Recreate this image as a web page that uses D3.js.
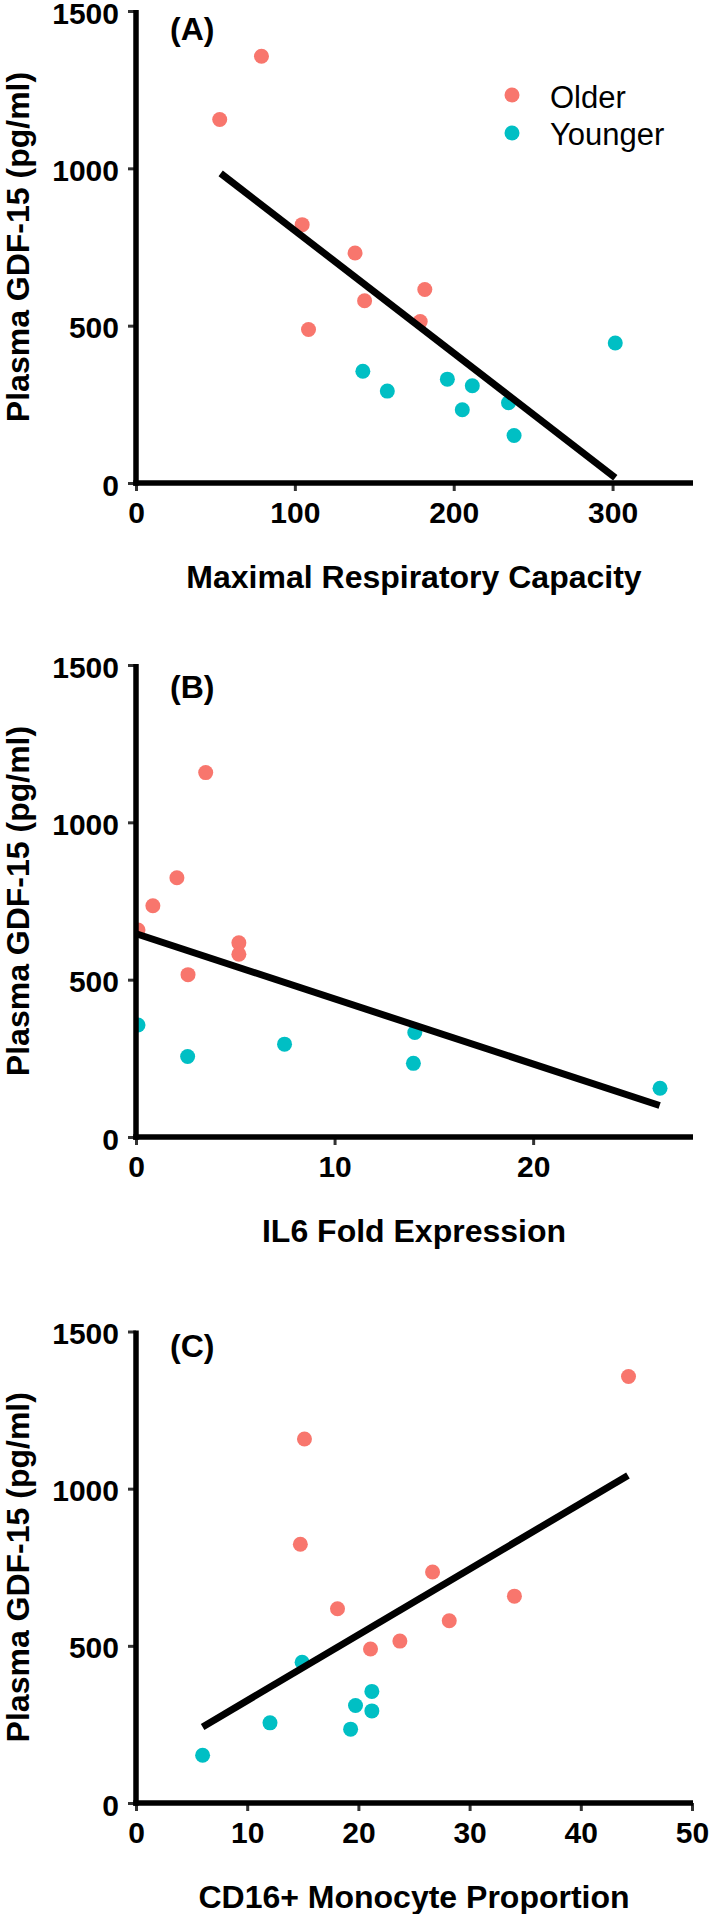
<!DOCTYPE html>
<html>
<head>
<meta charset="utf-8">
<script src="https://cdn.jsdelivr.net/npm/d3@7"></script>
<style>
  html, body { margin: 0; padding: 0; background: #fff; }
  svg { display: block; font-family: "Liberation Sans", Arial, sans-serif; }
</style>
</head>
<body>
<svg id="chart" width="709" height="1914"></svg>
<script>
// ---------- DATA ----------
const groups = ["Older", "Younger"];
const yTicks = [0, 500, 1000, 1500];
const yLabel = "Plasma GDF-15 (pg/ml)";

// Panel A: Maximal Respiratory Capacity
const aOlderX = [79, 52.7, 104.6, 137.9, 143.9, 181.8, 178.9, 108.6];
const aOlderY = [1356, 1155, 821, 731, 579, 615, 513, 488];
const aYoungerX = [142.8, 158.2, 196, 211.7, 205.4, 234.5, 238, 301.7];
const aYoungerY = [355, 292, 330, 309, 233, 255, 151, 445];
const aFit = [[53.3, 984], [301.7, 17]];
const aXTicks = [0, 100, 200, 300];

// Panel B: IL6 Fold Expression
const bOlderX = [3.51, 2.06, 0.85, 0.1, 5.18, 5.18, 2.62];
const bOlderY = [1158, 824, 735, 658, 617, 581, 516];
const bYoungerX = [0.1, 2.6, 7.48, 14.04, 13.97, 26.39];
const bYoungerY = [356, 256, 295, 332, 234, 155];
const bFit = [[0.05, 645], [26.37, 100]];
const bXTicks = [0, 10, 20];

// Panel C: CD16+ Monocyte Proportion
const cOlderX = [44.29, 15.15, 14.78, 26.67, 18.12, 28.17, 34.03, 23.73, 21.09];
const cOlderY = [1357, 1158, 823, 735, 618, 580, 658, 515, 490];
const cYoungerX = [14.94, 21.21, 19.74, 21.21, 12.05, 19.3, 5.99];
const cYoungerY = [448, 355, 310, 293, 255, 235, 152];
const cFit = [[5.99, 242], [44.24, 1042]];
const cXTicks = [0, 10, 20, 30, 40, 50];

const panels = [
  { tag: "(A)", xTitle: "Maximal Respiratory Capacity", xDomain: [0, 350], xTicks: aXTicks,
    older: aOlderX.map((x, i) => [x, aOlderY[i]]), younger: aYoungerX.map((x, i) => [x, aYoungerY[i]]),
    fit: aFit, legend: true },
  { tag: "(B)", xTitle: "IL6 Fold Expression", xDomain: [0, 28], xTicks: bXTicks,
    older: bOlderX.map((x, i) => [x, bOlderY[i]]), younger: bYoungerX.map((x, i) => [x, bYoungerY[i]]),
    fit: bFit, legend: false },
  { tag: "(C)", xTitle: "CD16+ Monocyte Proportion", xDomain: [0, 50], xTicks: cXTicks,
    older: cOlderX.map((x, i) => [x, cOlderY[i]]), younger: cYoungerX.map((x, i) => [x, cYoungerY[i]]),
    fit: cFit, legend: false }
];

// ---------- LAYOUT ----------
const colors = { Older: "#F8766D", Younger: "#00BFC4" };
const xRange = [136, 692];
const layout = [
  { top: 11, bottom: 483, tagDy: 29 },
  { top: 665, bottom: 1137, tagDy: 33 },
  { top: 1331.5, bottom: 1803, tagDy: 25 }
];
const R = 7.5;
const FONT = "'Liberation Sans', Arial, sans-serif";

const svg = d3.select("#chart");

panels.forEach((p, pi) => {
  const L = layout[pi];
  const x = d3.scaleLinear().domain(p.xDomain).range(xRange);
  const y = d3.scaleLinear().domain([0, 1500]).range([L.bottom, L.top]);
  const g = svg.append("g");

  const clipId = "clip" + pi;
  svg.append("clipPath").attr("id", clipId)
    .append("rect").attr("x", xRange[0]).attr("y", L.top - 20)
    .attr("width", xRange[1] - xRange[0] + 16).attr("height", L.bottom - L.top + 20);

  // points
  const pts = g.append("g").attr("clip-path", `url(#${clipId})`);
  [["Older", p.older], ["Younger", p.younger]].forEach(([grp, arr]) => {
    pts.selectAll(null).data(arr).enter().append("circle")
      .attr("cx", d => x(d[0])).attr("cy", d => y(d[1])).attr("r", R)
      .attr("fill", colors[grp]);
  });

  // regression line
  g.append("path")
    .attr("d", d3.line().x(d => x(d[0])).y(d => y(d[1]))(p.fit))
    .attr("stroke", "#000").attr("stroke-width", 7).attr("fill", "none");

  // y axis
  const yAxis = g.append("g").attr("transform", `translate(${xRange[0]},0)`)
    .call(d3.axisLeft(y).tickValues(yTicks).tickSize(8).tickPadding(9).tickFormat(d3.format("d")));
  yAxis.select(".domain").remove();
  yAxis.selectAll(".tick line").attr("stroke", "#333").attr("stroke-width", 3);
  yAxis.selectAll(".tick text").attr("font-size", 30).attr("font-weight", "bold").attr("fill", "#000")
    .attr("font-family", FONT).attr("dy", "0.4em");

  // x axis
  const xAxis = g.append("g").attr("transform", `translate(0,${L.bottom})`)
    .call(d3.axisBottom(x).tickValues(p.xTicks).tickSize(8).tickPadding(11).tickFormat(d3.format("d")));
  xAxis.select(".domain").remove();
  xAxis.selectAll(".tick line").attr("stroke", "#333").attr("stroke-width", 3);
  xAxis.selectAll(".tick text").attr("font-size", 30).attr("font-weight", "bold").attr("fill", "#000")
    .attr("font-family", FONT);

  // axis lines
  g.append("line").attr("x1", xRange[0]).attr("x2", xRange[0])
    .attr("y1", y(1500) - 1).attr("y2", L.bottom + 2.75)
    .attr("stroke", "#000").attr("stroke-width", 5.5);
  g.append("line").attr("x1", xRange[0] - 2.75).attr("x2", xRange[1] + 1)
    .attr("y1", L.bottom).attr("y2", L.bottom)
    .attr("stroke", "#000").attr("stroke-width", 5.5);

  // titles
  g.append("text").attr("x", (xRange[0] + xRange[1]) / 2).attr("y", L.bottom + 105)
    .attr("text-anchor", "middle").attr("font-size", 32).attr("font-weight", "bold")
    .text(p.xTitle);
  g.append("text")
    .attr("transform", `translate(29,${(L.top + L.bottom) / 2}) rotate(-90)`)
    .attr("text-anchor", "middle").attr("font-size", 32).attr("font-weight", "bold")
    .text(yLabel);
  g.append("text").attr("x", 170).attr("y", L.top + L.tagDy)
    .attr("font-size", 32).attr("font-weight", "bold").text(p.tag);

  // legend
  if (p.legend) {
    const lg = g.append("g");
    groups.forEach((grp, i) => {
      lg.append("circle").attr("cx", 512).attr("cy", 95 + i * 38).attr("r", R).attr("fill", colors[grp]);
      lg.append("text").attr("x", 550).attr("y", 108 + i * 37)
        .attr("font-size", 31).attr("fill", "#000").text(grp);
    });
  }
});
</script>
</body>
</html>
